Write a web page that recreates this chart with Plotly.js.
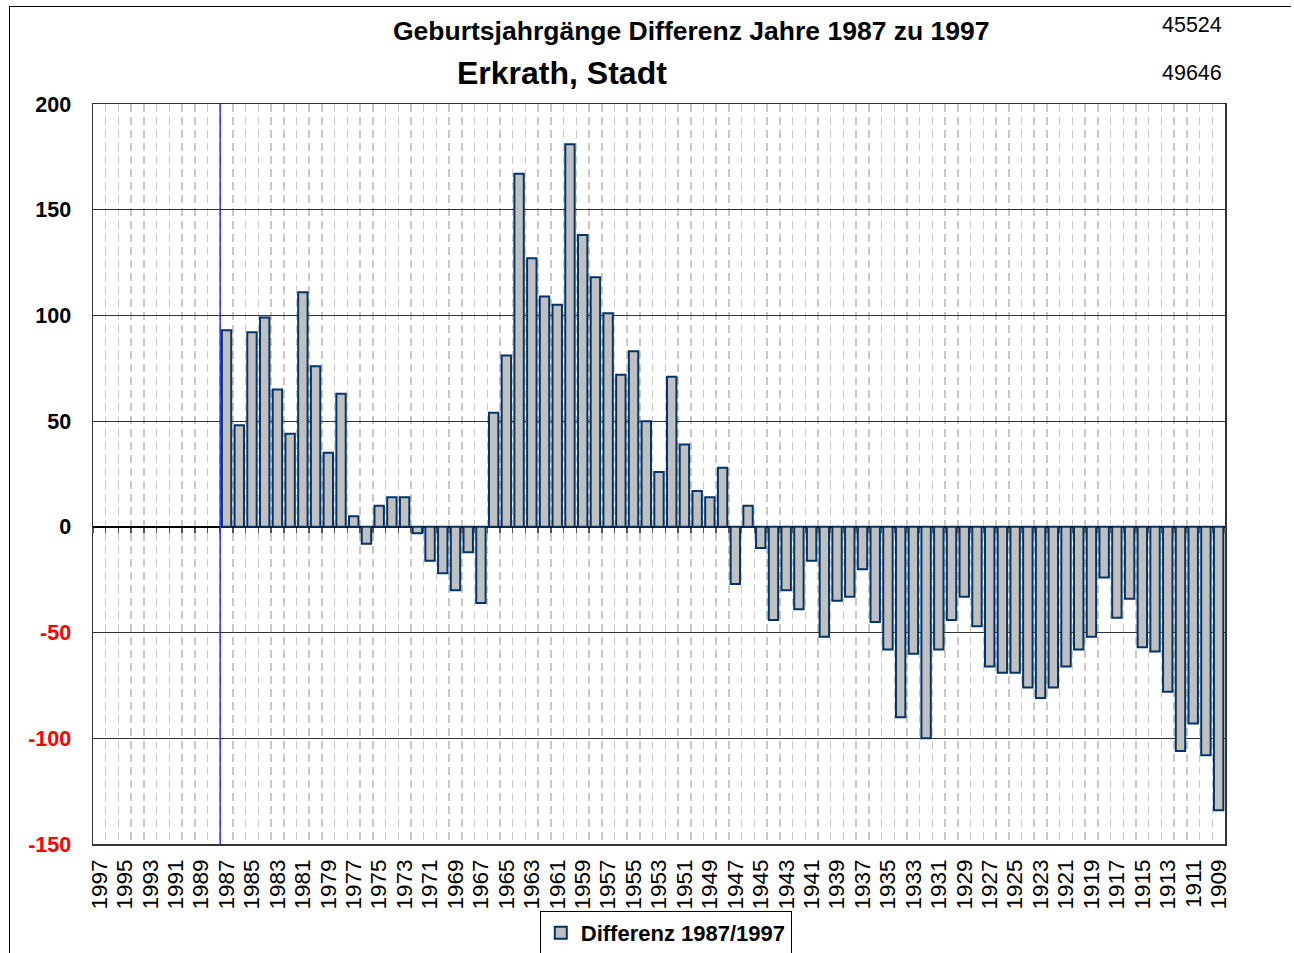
<!DOCTYPE html>
<html>
<head>
<meta charset="utf-8">
<script src="https://cdn.plot.ly/plotly-3.0.1.min.js"></script>
<style>
body{margin:0;background:#fff;}
#wrap{position:relative;width:1294px;height:953px;overflow:hidden;}
#chart{width:1294px;height:953px;}
#frame{position:absolute;left:9px;top:6px;width:1281px;height:960px;border-left:1px solid #000;border-top:1px solid #000;pointer-events:none;}
</style>
</head>
<body>
<div id="wrap"><div id="chart"></div><div id="frame"></div></div>
<script>
// Birth years (categories, left to right)
const years = ["1997","1996","1995","1994","1993","1992","1991","1990","1989","1988",
  "1987","1986","1985","1984","1983","1982","1981","1980","1979","1978",
  "1977","1976","1975","1974","1973","1972","1971","1970","1969","1968",
  "1967","1966","1965","1964","1963","1962","1961","1960","1959","1958",
  "1957","1956","1955","1954","1953","1952","1951","1950","1949","1948",
  "1947","1946","1945","1944","1943","1942","1941","1940","1939","1938",
  "1937","1936","1935","1934","1933","1932","1931","1930","1929","1928",
  "1927","1926","1925","1924","1923","1922","1921","1920","1919","1918",
  "1917","1916","1915","1914","1913","1912","1911","1910","1909"];

// Differenz 1987/1997 per birth year (no values for 1997-1988)
const differenz = [null,null,null,null,null,null,null,null,null,null,
  93,48,92,99,65,44,111,76,35,63,
  5,-8,10,14,14,-3,-16,-22,-30,-12,
  -36,54,81,167,127,109,105,181,138,118,
  101,72,83,50,26,71,39,17,14,28,
  -27,10,-10,-44,-30,-39,-16,-52,-35,-33,
  -20,-45,-58,-90,-60,-100,-58,-44,-33,-47,
  -66,-69,-69,-76,-81,-76,-66,-58,-52,-24,
  -43,-34,-57,-59,-78,-106,-93,-108,-134];

const yTickValues = [200,150,100,50,0,-50,-100,-150];
const seriesName = "Differenz 1987/1997";
const titleLine1 = "Geburtsjahrgänge Differenz Jahre 1987 zu 1997";
const titleLine2 = "Erkrath, Stadt";
const codeTop = "45524";
const codeBottom = "49646";

const yTickText = yTickValues.map(v => v < 0 ? '<span style="color:#ff0000">' + v + '</span>' : String(v));
const xTickText = years.map((y, i) => i % 2 === 0 ? y : "");
const firstDataIdx = differenz.findIndex(v => v !== null);

const FONT = "Liberation Sans, Arial, sans-serif";

const traces = [
  {
    type: "bar",
    x: years,
    y: differenz,
    name: seriesName,
    marker: {color: "#c0c0c0", line: {color: "#003366", width: 2}},
    hoverinfo: "x+y"
  },
  {
    type: "scatter",
    mode: "markers",
    x: years,
    y: differenz,
    xaxis: "x2",
    marker: {opacity: 0},
    showlegend: false,
    hoverinfo: "skip"
  }
];

const layout = {
  width: 1294,
  height: 953,
  margin: {l: 93, r: 69, t: 104, b: 109, autoexpand: false},
  paper_bgcolor: "#ffffff",
  plot_bgcolor: "#ffffff",
  font: {family: FONT, color: "#000"},
  bargap: 0.26,
  showlegend: true,
  legend: {
    orientation: "h",
    x: 0.506, xanchor: "center",
    y: -0.0905, yanchor: "top",
    bordercolor: "#000", borderwidth: 1,
    bgcolor: "#fff",
    itemwidth: 30,
    font: {family: FONT, size: 22, weight: 700, color: "#000"}
  },
  xaxis: {
    type: "category",
    categoryorder: "array",
    categoryarray: years,
    range: [-0.5, years.length - 0.5],
    tickmode: "array",
    tickvals: years,
    ticktext: xTickText,
    tickangle: -90,
    tickson: "boundaries",
    ticks: "",
    automargin: false,
    ticklabelstandoff: 5,
    tickfont: {family: FONT, size: 22.5, color: "#000"},
    showgrid: true,
    gridcolor: "#c8c8c8",
    gridwidth: 1.5,
    griddash: "8px,5px",
    showline: true,
    linecolor: "#333",
    linewidth: 1.5,
    mirror: true,
    zeroline: false,
    fixedrange: true
  },
  xaxis2: {
    type: "category",
    categoryorder: "array",
    categoryarray: years,
    range: [-0.5, years.length - 0.5],
    overlaying: "x",
    anchor: "free",
    position: 150 / 350,
    side: "bottom",
    tickmode: "array",
    tickvals: years,
    tickson: "boundaries",
    ticks: "outside",
    ticklen: 5,
    tickwidth: 1.5,
    tickcolor: "#555",
    showticklabels: false,
    showgrid: false,
    showline: false,
    zeroline: false,
    automargin: false
  },
  yaxis: {
    range: [-150, 200],
    tickmode: "array",
    tickvals: yTickValues,
    ticktext: yTickText,
    ticks: "",
    automargin: false,
    ticklabelstandoff: 16,
    tickfont: {family: FONT, size: 21.5, weight: 700, color: "#000"},
    showgrid: true,
    gridcolor: "#333",
    gridwidth: 1,
    zeroline: true,
    zerolinecolor: "#000",
    zerolinewidth: 1.5,
    showline: true,
    linecolor: "#333",
    linewidth: 1.5,
    mirror: true,
    fixedrange: true
  },
  shapes: [
    {
      type: "line", xref: "x", yref: "paper",
      x0: firstDataIdx - 0.5, x1: firstDataIdx - 0.5, y0: 0, y1: 1,
      line: {color: "#3333ff", width: 1.5}
    }
  ],
  annotations: [
    {text: "<b>" + titleLine1 + "</b>", xref: "paper", yref: "paper", x: 0.528, y: 1.0986,
     xanchor: "center", yanchor: "middle", showarrow: false, font: {family: FONT, size: 26.5, color: "#000"}},
    {text: "<b>" + titleLine2 + "</b>", xref: "paper", yref: "paper", x: 0.4143, y: 1.0419,
     xanchor: "center", yanchor: "middle", showarrow: false, font: {family: FONT, size: 32, color: "#000"}},
    {text: codeTop, xref: "paper", yref: "paper", x: 0.999, y: 1.107,
     xanchor: "right", yanchor: "middle", showarrow: false, font: {family: FONT, size: 21.5, color: "#000"}},
    {text: codeBottom, xref: "paper", yref: "paper", x: 0.999, y: 1.0419,
     xanchor: "right", yanchor: "middle", showarrow: false, font: {family: FONT, size: 21.5, color: "#000"}}
  ]
};

Plotly.newPlot("chart", traces, layout, {displayModeBar: false, staticPlot: true});
</script>
</body>
</html>
